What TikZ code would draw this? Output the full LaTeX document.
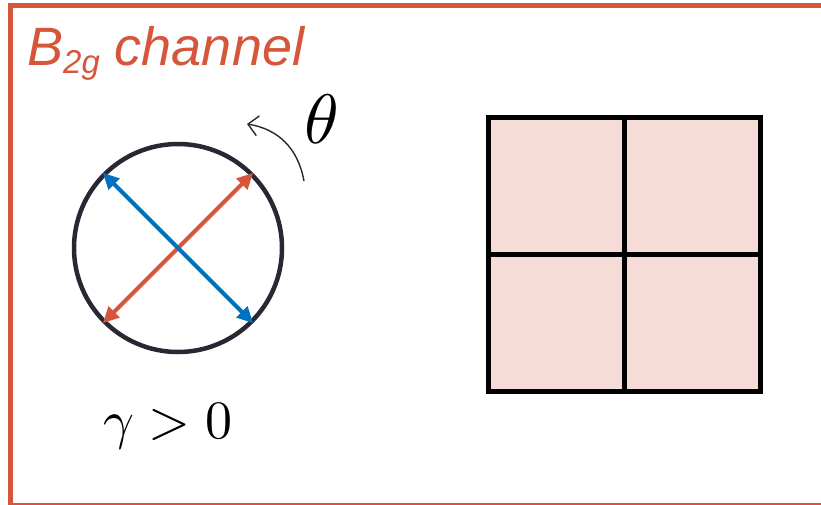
\documentclass[tikz,border=0pt]{standalone}
\usepackage{fontspec}
\setsansfont{Liberation Sans}
\usepackage{graphicx}
\usetikzlibrary{arrows.meta}
\definecolor{framered}{RGB}{214,86,60}
\definecolor{arrowblue}{RGB}{0,112,192}
\definecolor{ringdark}{RGB}{40,40,52}
\definecolor{cellfill}{RGB}{246,220,215}
\tikzset{
  ring/.style={circle, draw=ringdark, line width=4.5pt, minimum size=208pt, inner sep=0pt},
  dblarrow/.style={line width=4pt, {Triangle[length=16pt,width=15pt]}-{Triangle[length=16pt,width=15pt]}, shorten <=0pt, shorten >=0pt},
  cell/.style={rectangle, draw=black, fill=cellfill, line width=5pt, minimum width=136pt, minimum height=137pt, inner sep=0pt, outer sep=0pt},
  rotarrow/.style={draw=ringdark, line width=1.4pt, -{Straight Barb[length=10pt,width=20pt]}}
}
\begin{document}
\begin{tikzpicture}[x=1pt,y=-1pt]
\useasboundingbox (0,0) rectangle (821,504);
\clip (0,0) rectangle (821,504);
\draw[framered, line width=5pt] (10.5,5.5) rectangle (830,505.5);
\node[anchor=base west, text=framered, inner sep=0pt, font=\sffamily\itshape\fontsize{54}{60}\selectfont] (title) at (27,65)
  {B\raisebox{-8pt}{\fontsize{33}{38}\selectfont 2g} channel};
% ring with arrows
\node[ring] (c) at (178,248) {};
\draw[dblarrow, framered] (c.225) -- (c.45);
\draw[dblarrow, arrowblue] (c.135) -- (c.315);
% rotation arrow
\coordinate (r1) at (304,181);
\coordinate (r2) at (247,124);
\draw[rotarrow] (r1) .. controls (298,148) and (278,129) .. (r2);
\node[inner sep=0pt, font=\fontsize{10}{12}\selectfont] (theta) at (322,119) {\scalebox{7}{$\theta$}};
\node[anchor=base, inner sep=0pt, font=\fontsize{10}{12}\selectfont] (gamma) at (168,438) {\scalebox{5.4}{$\gamma>0$}};
% grid
\node[cell] (g11) at (556,185.5) {};
\node[cell] (g12) at (692,185.5) {};
\node[cell] (g21) at (556,322.5) {};
\node[cell] (g22) at (692,322.5) {};
\end{tikzpicture}
\end{document}
